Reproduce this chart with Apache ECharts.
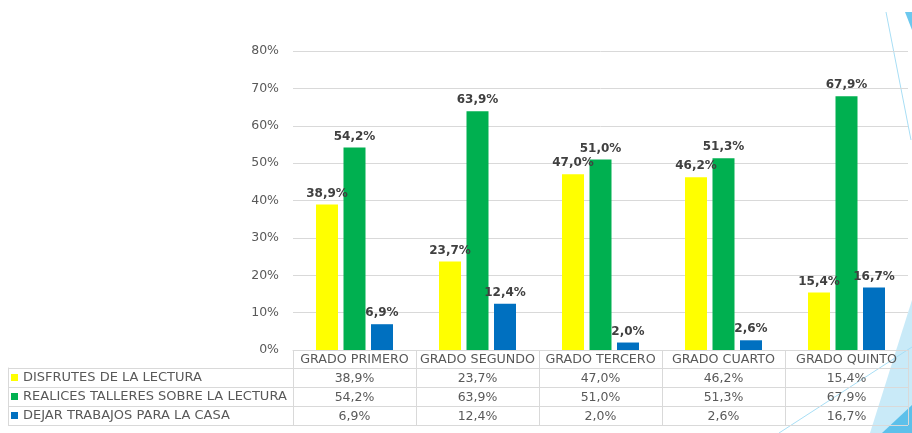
<!DOCTYPE html>
<html>
<head>
<meta charset="utf-8">
<script src="https://cdn.jsdelivr.net/npm/echarts@6/dist/echarts.min.js"></script>
<style>
  html, body { margin: 0; padding: 0; background: #fff; }
  #myChart { width: 912px; height: 433px; }
</style>
</head>
<body>
<div id="myChart"></div>
<script>
var categories = ['GRADO PRIMERO', 'GRADO SEGUNDO', 'GRADO TERCERO', 'GRADO CUARTO', 'GRADO QUINTO'];
var seriesNames = ['DISFRUTES DE LA LECTURA', 'REALICES TALLERES SOBRE LA LECTURA', 'DEJAR TRABAJOS PARA LA CASA'];
var disfrutes = [38.9, 23.7, 47.0, 46.2, 15.4];
var talleres = [54.2, 63.9, 51.0, 51.3, 67.9];
var trabajos = [6.9, 12.4, 2.0, 2.6, 16.7];
var seriesColors = ['#FFFF00', '#00B050', '#0070C0'];

var allValues = [disfrutes, talleres, trabajos];
var font = 'DejaVu Sans';
var gridLine = '#d9d9d9';

function fmt (v) {
  return v.toFixed(1).replace('.', ',') + '%';
}

var myChart = echarts.init(document.getElementById('myChart'));

// table rows under the axis: one extra category axis per series
var xAxes = [{
  type: 'category',
  gridIndex: 0,
  data: categories,
  position: 'bottom',
  axisLine: { lineStyle: { color: gridLine } },
  axisTick: { show: true, interval: 0, length: 75, lineStyle: { color: gridLine } },
  axisLabel: { interval: 0, color: '#595959', fontSize: 12.7, fontFamily: font, margin: 3 }
}];
allValues.forEach(function (vals, i) {
  xAxes.push({
    type: 'category',
    gridIndex: 0,
    data: vals.map(fmt),
    position: 'bottom',
    offset: 19 * (i + 1),
    axisLine: { show: false },
    axisTick: { show: false },
    axisLabel: { interval: 0, color: '#595959', fontSize: 12.5, fontFamily: font, margin: 3 }
  });
});
xAxes.push({ type: 'value', gridIndex: 1, show: false });

myChart.setOption({
  animation: false,
  textStyle: { fontFamily: font },
  grid: [
    { left: 293, right: 4, top: 51, bottom: 83 },
    { left: 8, right: 4, top: 368, bottom: 8 }
  ],
  legend: {
    data: seriesNames,
    orient: 'vertical',
    left: 11,
    top: 368,
    padding: 0,
    itemGap: 0,
    itemWidth: 7,
    itemHeight: 7,
    icon: 'rect',
    selectedMode: false,
    textStyle: { color: '#595959', fontSize: 13, fontFamily: font, lineHeight: 19 }
  },
  xAxis: xAxes,
  yAxis: [{
    type: 'value',
    gridIndex: 0,
    min: 0,
    max: 80,
    interval: 10,
    axisLine: { show: false },
    axisTick: { show: false },
    axisLabel: { formatter: '{value}%', color: '#595959', fontSize: 12.5, fontFamily: font, margin: 14 },
    splitLine: { lineStyle: { color: gridLine } }
  }, {
    type: 'category',
    gridIndex: 1,
    data: seriesNames,
    inverse: true,
    axisLine: { show: true, lineStyle: { color: gridLine } },
    axisTick: { show: false },
    axisLabel: { show: false },
    splitLine: { show: true, interval: 0, lineStyle: { color: gridLine } }
  }],
  graphic: [
    { type: 'polygon', silent: true, z: -10, shape: { points: [[870, 433], [912, 300], [912, 433]] }, style: { fill: '#c9eaf8' } },
    { type: 'polygon', silent: true, z: -9, shape: { points: [[882, 433], [912, 405], [912, 433]] }, style: { fill: '#5dc0ea' } },
    { type: 'polygon', silent: true, z: -9, shape: { points: [[905, 12], [912, 12], [912, 30]] }, style: { fill: '#6cc8ee' } },
    { type: 'line', silent: true, z: -9, shape: { x1: 886, y1: 12, x2: 911, y2: 140 }, style: { stroke: '#a8def5', lineWidth: 1 } },
    { type: 'line', silent: true, z: -9, shape: { x1: 779, y1: 433, x2: 912, y2: 347 }, style: { stroke: '#a8def5', lineWidth: 1 } }
  ],
  series: allValues.map(function (vals, i) {
    return {
      name: seriesNames[i],
      type: 'bar',
      xAxisIndex: 0,
      yAxisIndex: 0,
      barWidth: 22,
      barGap: '25%',
      itemStyle: { color: seriesColors[i] },
      label: {
        show: true,
        position: 'top',
        color: '#404040',
        fontWeight: 'bold',
        fontSize: 12,
        fontFamily: font,
        formatter: function (p) { return fmt(p.value); }
      },
      data: vals
    };
  })
});
</script>
</body>
</html>
